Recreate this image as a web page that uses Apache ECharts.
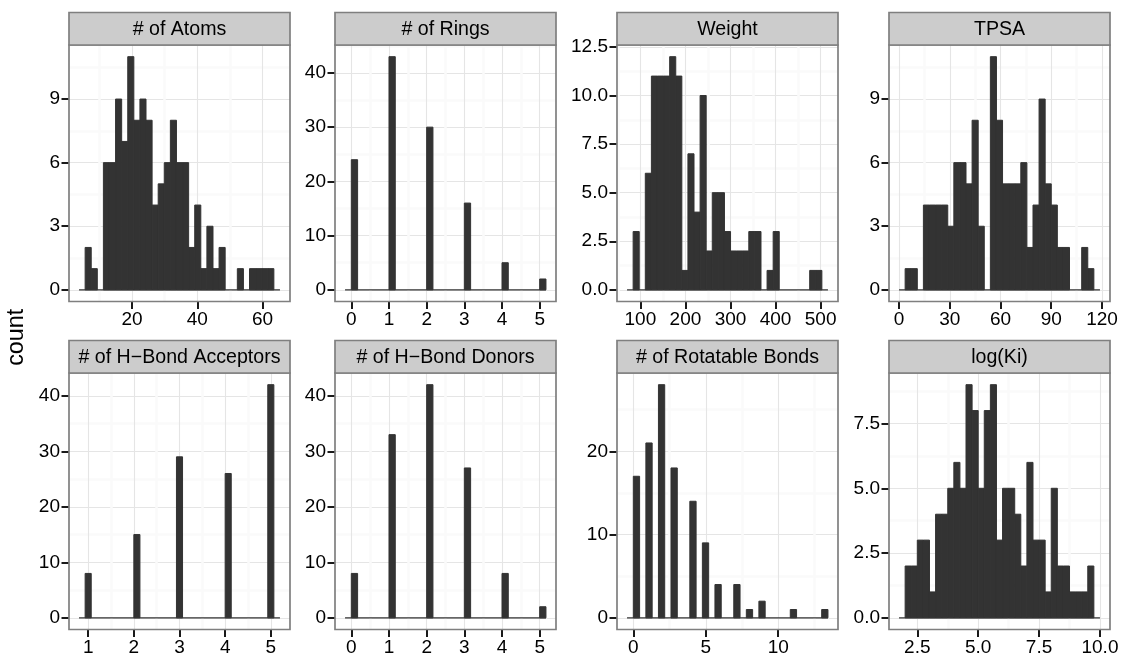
<!DOCTYPE html>
<html>
<head>
<meta charset="utf-8">
<script src="https://cdn.jsdelivr.net/npm/echarts@6/dist/echarts.min.js"></script>
<style>
  html, body { margin: 0; padding: 0; background: #ffffff; }
  #chart { width: 1123px; height: 660px; }
</style>
</head>
<body>
<div id="chart"></div>
<script>
// Facet titles, row by row
const panelTitles = ['# of Atoms', '# of Rings', 'Weight', 'TPSA',
  '# of H\u2212Bond Acceptors', '# of H\u2212Bond Donors', '# of Rotatable Bonds', 'log(Ki)'];

// Histogram bins: left edge of the first bin, bin width, count in each bin
const atomsStart = 3.7333, atomsWidth = 1.86667;
const atomsCounts = [0, 2, 1, 0, 6, 6, 9, 7, 11, 8, 9, 8, 4, 5, 6, 8, 6, 6, 2, 4, 1, 3, 1, 2, 0, 0, 1, 0, 1, 1, 1, 1, 0];

const ringsStart = -1 / 6, ringsWidth = 1 / 6;
const ringsCounts = [0, 24, 0, 0, 0, 0, 0, 43, 0, 0, 0, 0, 0, 30, 0, 0, 0, 0, 0, 16, 0, 0, 0, 0, 0, 5, 0, 0, 0, 0, 0, 2];

const weightStart = 70.4, weightWidth = 13.51;
const weightCounts = [0, 3, 0, 6, 11, 11, 11, 12, 11, 1, 7, 4, 10, 2, 5, 5, 3, 2, 2, 2, 3, 3, 0, 1, 3, 0, 0, 0, 0, 0, 1, 1, 0];

const tpsaStart = 0, tpsaWidth = 3.6;
const tpsaCounts = [0, 1, 1, 0, 4, 4, 4, 4, 3, 6, 6, 5, 8, 3, 0, 11, 8, 5, 5, 5, 6, 2, 4, 9, 5, 4, 2, 2, 0, 0, 2, 1, 0];

const acceptorsStart = 0.8, acceptorsWidth = 2 / 15;
const acceptorsCounts = [0, 8, 0, 0, 0, 0, 0, 0, 0, 15, 0, 0, 0, 0, 0, 0, 29, 0, 0, 0, 0, 0, 0, 0, 26, 0, 0, 0, 0, 0, 0, 42, 0];

const donorsStart = -1 / 6, donorsWidth = 1 / 6;
const donorsCounts = [0, 8, 0, 0, 0, 0, 0, 33, 0, 0, 0, 0, 0, 42, 0, 0, 0, 0, 0, 27, 0, 0, 0, 0, 0, 8, 0, 0, 0, 0, 0, 2];

const rotatableStart = -13 / 30, rotatableWidth = 13 / 30;
const rotatableCounts = [0, 17, 0, 21, 0, 28, 0, 18, 0, 0, 14, 0, 9, 0, 4, 0, 0, 4, 0, 1, 0, 2, 0, 0, 0, 0, 1, 0, 0, 0, 0, 1];

const logKiStart = 1.75, logKiWidth = 0.25;
const logKiCounts = [0, 2, 2, 3, 3, 1, 4, 4, 5, 6, 5, 9, 8, 5, 8, 9, 3, 5, 5, 4, 2, 6, 3, 3, 1, 5, 2, 2, 1, 1, 1, 2, 0];

// Tick labels of each panel
const atomsXTicks = [20, 40, 60],            atomsYTicks = [0, 3, 6, 9];
const ringsXTicks = [0, 1, 2, 3, 4, 5],      ringsYTicks = [0, 10, 20, 30, 40];
const weightXTicks = [100, 200, 300, 400, 500], weightYTicks = [0, 2.5, 5, 7.5, 10, 12.5];
const tpsaXTicks = [0, 30, 60, 90, 120],     tpsaYTicks = [0, 3, 6, 9];
const acceptorsXTicks = [1, 2, 3, 4, 5],     acceptorsYTicks = [0, 10, 20, 30, 40];
const donorsXTicks = [0, 1, 2, 3, 4, 5],     donorsYTicks = [0, 10, 20, 30, 40];
const rotatableXTicks = [0, 5, 10],          rotatableYTicks = [0, 10, 20];
const logKiXTicks = [2.5, 5, 7.5, 10],       logKiYTicks = [0, 2.5, 5, 7.5];

const panels = [
  { start: atomsStart, width: atomsWidth, counts: atomsCounts, xTicks: atomsXTicks, yTicks: atomsYTicks, xDec: 0, yDec: 0 },
  { start: ringsStart, width: ringsWidth, counts: ringsCounts, xTicks: ringsXTicks, yTicks: ringsYTicks, xDec: 0, yDec: 0 },
  { start: weightStart, width: weightWidth, counts: weightCounts, xTicks: weightXTicks, yTicks: weightYTicks, xDec: 0, yDec: 1 },
  { start: tpsaStart, width: tpsaWidth, counts: tpsaCounts, xTicks: tpsaXTicks, yTicks: tpsaYTicks, xDec: 0, yDec: 0 },
  { start: acceptorsStart, width: acceptorsWidth, counts: acceptorsCounts, xTicks: acceptorsXTicks, yTicks: acceptorsYTicks, xDec: 0, yDec: 0 },
  { start: donorsStart, width: donorsWidth, counts: donorsCounts, xTicks: donorsXTicks, yTicks: donorsYTicks, xDec: 0, yDec: 0 },
  { start: rotatableStart, width: rotatableWidth, counts: rotatableCounts, xTicks: rotatableXTicks, yTicks: rotatableYTicks, xDec: 0, yDec: 0 },
  { start: logKiStart, width: logKiWidth, counts: logKiCounts, xTicks: logKiXTicks, yTicks: logKiYTicks, xDec: 1, yDec: 1 }
];

// Page layout (pixels)
const colLeft = [69, 335, 617, 889];
const panelW = 221;
const rowTop = [45, 373];
const panelH = 256.5;
const stripH = 32.5;

const FONT = '"Liberation Sans", Arial, Helvetica, sans-serif';
const BAR = '#333333';
const BORDER = '#7F7F7F';

// Minor breaks halfway between major ones, extended one step past each end
function minorBreaks(ticks, lo, hi) {
  const step = ticks[1] - ticks[0];
  const ext = [ticks[0] - step].concat(ticks, [ticks[ticks.length - 1] + step]);
  const out = [];
  for (let i = 0; i < ext.length - 1; i++) {
    const m = (ext[i] + ext[i + 1]) / 2;
    if (m > lo && m < hi) out.push(m);
  }
  return out;
}

const grids = [], xAxes = [], yAxes = [], series = [], graphics = [];

panels.forEach((p, i) => {
  const row = Math.floor(i / 4), col = i % 4;
  const left = colLeft[col], top = rowTop[row];
  grids.push({ left: left, top: top, width: panelW, height: panelH, show: false });

  const lo = p.start, hi = p.start + p.counts.length * p.width;
  const xPad = 0.05 * (hi - lo);
  const xMin = lo - xPad, xMax = hi + xPad;
  const cMax = Math.max.apply(null, p.counts);
  const yMin = -0.05 * cMax, yMax = 1.05 * cMax;

  const xMinor = minorBreaks(p.xTicks, xMin, xMax);
  const yMinor = minorBreaks(p.yTicks, yMin, yMax);

  // minor grid (drawn first)
  xAxes.push({
    gridIndex: i, type: 'value', min: xMin, max: xMax, position: 'top',
    axisLine: { show: false }, axisLabel: { show: false },
    axisTick: { show: false, customValues: xMinor },
    splitLine: { show: true, lineStyle: { color: '#FAFAFA', width: 2.5 } }
  });
  yAxes.push({
    gridIndex: i, type: 'value', min: yMin, max: yMax, position: 'right',
    axisLine: { show: false }, axisLabel: { show: false },
    axisTick: { show: false, customValues: yMinor },
    splitLine: { show: true, lineStyle: { color: '#FAFAFA', width: 2.5 } }
  });
  // major grid, ticks and labels
  xAxes.push({
    gridIndex: i, type: 'value', min: xMin, max: xMax, position: 'bottom',
    axisLine: { show: false, onZero: false },
    axisTick: { show: true, length: 7.5, customValues: p.xTicks, lineStyle: { color: '#000', width: 1.8 } },
    axisLabel: { customValues: p.xTicks, margin: 9, color: '#000', fontSize: 19, fontFamily: FONT,
      formatter: v => Number(v).toFixed(p.xDec) },
    splitLine: { show: true, lineStyle: { color: '#E5E5E5', width: 1.1 } }
  });
  yAxes.push({
    gridIndex: i, type: 'value', min: yMin, max: yMax, position: 'left',
    axisLine: { show: false, onZero: false },
    axisTick: { show: true, length: 7.5, customValues: p.yTicks, lineStyle: { color: '#000', width: 1.8 } },
    axisLabel: { customValues: p.yTicks, margin: 9, color: '#000', fontSize: 19, fontFamily: FONT,
      formatter: v => Number(v).toFixed(p.yDec) },
    splitLine: { show: true, lineStyle: { color: '#E5E5E5', width: 1.1 } }
  });

  const ax = 2 * i + 1;
  const binData = p.counts.map((c, k) => [p.start + k * p.width, p.start + (k + 1) * p.width, c]);

  // zero line under the full run of bins
  series.push({
    type: 'line', xAxisIndex: ax, yAxisIndex: ax, silent: true, symbol: 'none', z: 3,
    data: [[lo, 0], [hi, 0]], lineStyle: { color: BAR, width: 1.2 }, animation: false
  });
  // histogram bars (a thin same-colour stroke closes the seams between neighbouring bins)
  series.push({
    type: 'custom', xAxisIndex: ax, yAxisIndex: ax, silent: true, z: 4, animation: false,
    data: binData,
    renderItem: (params, api) => {
      const c = api.value(2);
      if (!c) return null;
      const a = api.coord([api.value(0), c]);
      const b = api.coord([api.value(1), 0]);
      return {
        type: 'rect',
        shape: { x: a[0], y: a[1], width: b[0] - a[0], height: b[1] - a[1] },
        style: { fill: BAR, stroke: BAR, lineWidth: 1 }
      };
    }
  });

  // panel border
  graphics.push({
    type: 'rect', z: 100, silent: true,
    shape: { x: left, y: top, width: panelW, height: panelH },
    style: { fill: null, stroke: BORDER, lineWidth: 1.7 }
  });
  // strip with facet title
  graphics.push({
    type: 'rect', z: 100, silent: true,
    shape: { x: left, y: top - stripH, width: panelW, height: stripH },
    style: { fill: '#CCCCCC', stroke: BORDER, lineWidth: 1.7 }
  });
  graphics.push({
    type: 'text', z: 101, silent: true,
    x: left + panelW / 2, y: top - stripH / 2 + 0.5,
    style: { text: panelTitles[i], fill: '#000', font: '19.6px ' + FONT,
      textAlign: 'center', textVerticalAlign: 'middle' }
  });
});

// shared y-axis title
graphics.push({
  type: 'text', z: 101, silent: true,
  x: 17, y: (rowTop[0] + rowTop[1] + panelH) / 2, rotation: Math.PI / 2,
  style: { text: 'count', fill: '#000', font: '23.4px ' + FONT,
    textAlign: 'center', textVerticalAlign: 'middle' }
});

const chart = echarts.init(document.getElementById('chart'), null, { renderer: 'canvas' });
chart.setOption({
  animation: false,
  backgroundColor: '#ffffff',
  grid: grids,
  xAxis: xAxes,
  yAxis: yAxes,
  series: series,
  graphic: { elements: graphics }
});
</script>
</body>
</html>
